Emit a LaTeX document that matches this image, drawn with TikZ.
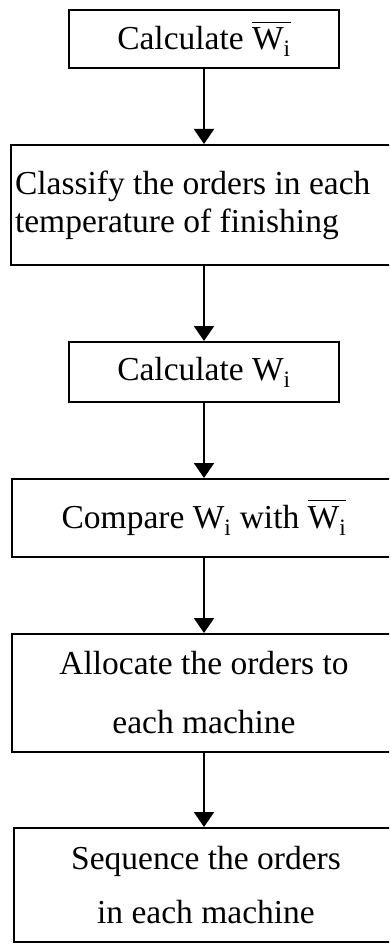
\documentclass[tikz,border=0pt]{standalone}
\usepackage{fontspec}
\setmainfont{Liberation Serif}
\usetikzlibrary{arrows.meta}
\newcommand{\wbar}{$\overline{\rule{0pt}{0.8em}\mbox{W\textsubscript{i}}}$}
\begin{document}
\begin{tikzpicture}[x=1pt,y=-1pt,
  box/.style={draw, line width=2pt, rectangle, inner sep=0pt,
    font=\fontsize{33.5}{38}\selectfont, align=center},
  arr/.style={line width=2pt, -{Triangle[length=15pt,width=20pt]}}]
\useasboundingbox (0,0) rectangle (389,944);
\clip (0,0) rectangle (389,944);
\node[box, minimum width=270pt, minimum height=58pt] (b1) at (204,39)
  {Calculate \wbar};
\node[box, minimum width=384pt, minimum height=120pt, align=flush left, text width=376pt] (b2) at (203,205)
  {Classify the orders in each\\temperature of finishing};
\node[box, minimum width=270pt, minimum height=60pt] (b3) at (204,372)
  {Calculate W\textsubscript{i}};
\node[box, minimum width=384pt, minimum height=78pt] (b4) at (204,518)
  {Compare W\textsubscript{i} with \wbar};
\node[box, minimum width=384pt, minimum height=118pt] (b5) at (204,693)
  {Allocate the orders to\\[21pt]each machine};
\node[box, minimum width=384pt, minimum height=114pt] (b6) at (206,885)
  {Sequence the orders\\[16pt]in each machine};
\draw[arr] (b1.south) -- (b1.south |- b2.north);
\draw[arr] (b3.north |- b2.south) -- (b3.north);
\draw[arr] (b3.south) -- (b4.north);
\draw[arr] (b4.south) -- (b5.north);
\draw[arr] (b5.south) -- (b5.south |- b6.north);
\end{tikzpicture}
\end{document}
